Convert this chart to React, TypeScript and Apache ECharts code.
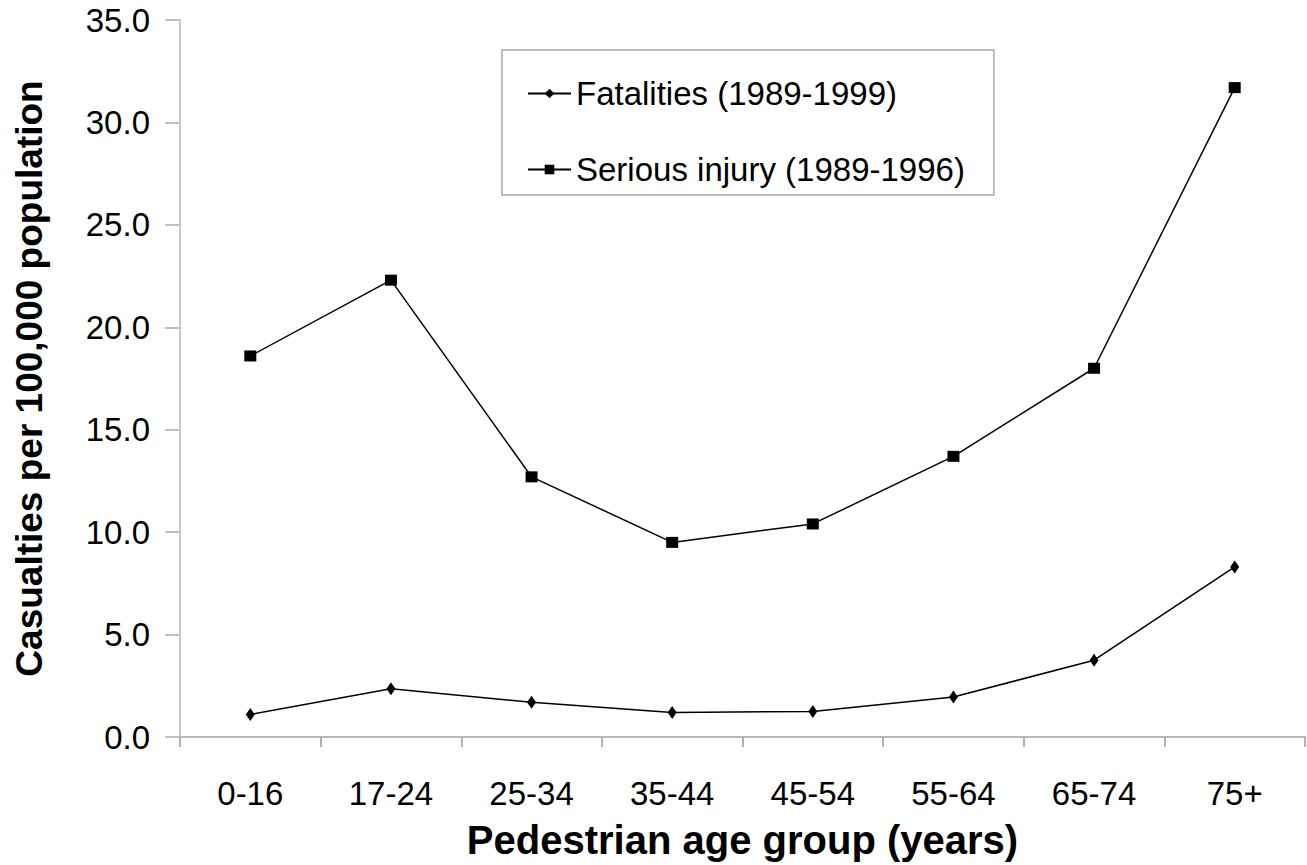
import React, { useEffect, useRef } from "react";
import * as echarts from "echarts";

const categories = ["0-16", "17-24", "25-34", "35-44", "45-54", "55-64", "65-74", "75+"];
const fatalities = [1.1, 2.35, 1.7, 1.2, 1.25, 1.95, 3.75, 8.3];
const seriousInjury = [18.6, 22.3, 12.7, 9.5, 10.4, 13.7, 18.0, 31.7];
const seriesNames = ["Fatalities (1989-1999)", "Serious injury (1989-1996)"];
const yTicks = { min: 0, max: 35, interval: 5 };
const xTitle = "Pedestrian age group (years)";
const yTitle = "Casualties per 100,000 population";

const FONT = "'Liberation Sans', Arial, sans-serif";

export default function App() {
  const ref = useRef<HTMLDivElement>(null);
  useEffect(() => {
    if (!ref.current) return;
    const chart = echarts.init(ref.current, undefined, { renderer: "svg" });
    chart.setOption({
      animation: false,
      backgroundColor: "#ffffff",
      textStyle: { fontFamily: FONT },
      grid: { left: 180, right: 2, top: 20, bottom: 121, containLabel: false },
      legend: {
        orient: "vertical",
        left: 502,
        top: 50,
        padding: [27, 29, 9, 25],
        itemGap: 43,
        itemWidth: 43,
        itemHeight: 12,
        borderColor: "#a8a8a8",
        borderWidth: 1.5,
        textStyle: { fontFamily: FONT, fontSize: 33, color: "#000", padding: [0, 0, 0, 0] },
        data: seriesNames,
      },
      xAxis: {
        type: "category",
        data: categories,
        boundaryGap: true,
        name: xTitle,
        nameLocation: "middle",
        nameGap: 83,
        nameTextStyle: { fontFamily: FONT, fontSize: 40, fontWeight: "bold", color: "#000" },
        axisLine: { show: true, lineStyle: { color: "#b8b8b8", width: 2 } },
        axisTick: { show: true, alignWithLabel: false, length: 10, lineStyle: { color: "#b0b0b0", width: 2 } },
        axisLabel: { fontFamily: FONT, fontSize: 33, color: "#000", margin: 40 },
        splitLine: { show: false },
      },
      yAxis: {
        type: "value",
        min: yTicks.min,
        max: yTicks.max,
        interval: yTicks.interval,
        name: yTitle,
        nameLocation: "middle",
        nameGap: 132,
        nameRotate: 90,
        nameTextStyle: { fontFamily: FONT, fontSize: 37, fontWeight: "bold", color: "#000" },
        axisLine: { show: true, lineStyle: { color: "#c8c8c8", width: 2 } },
        axisTick: { show: true, inside: false, length: 15, lineStyle: { color: "#c0c0c0", width: 2 } },
        axisLabel: {
          fontFamily: FONT,
          fontSize: 33,
          color: "#000",
          margin: 30,
          formatter: (v: number) => v.toFixed(1),
        },
        splitLine: { show: false },
      },
      series: [
        {
          name: seriesNames[0],
          type: "line",
          data: fatalities,
          symbol: "diamond",
          symbolSize: [9, 13],
          lineStyle: { color: "#000", width: 1.5 },
          itemStyle: { color: "#000" },
        },
        {
          name: seriesNames[1],
          type: "line",
          data: seriousInjury,
          symbol: "rect",
          symbolSize: [12, 11],
          lineStyle: { color: "#000", width: 1.5 },
          itemStyle: { color: "#000" },
        },
      ],
    });
    return () => chart.dispose();
  }, []);
  return (
    <div
      ref={ref}
      style={{ position: "absolute", left: 0, top: 0, width: 1307, height: 865, background: "#fff" }}
    />
  );
}
